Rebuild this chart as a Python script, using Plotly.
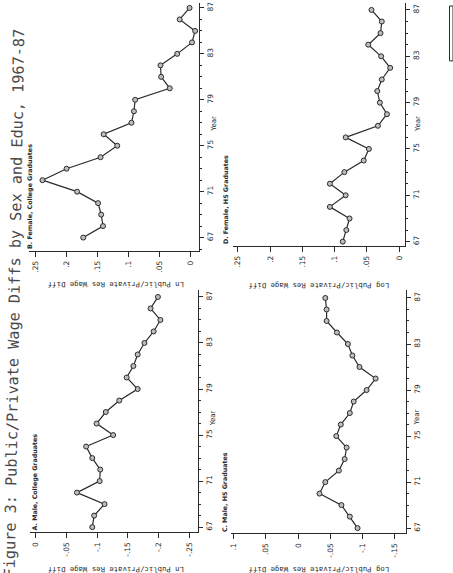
import plotly.graph_objects as go

W, H = 453, 573

years = list(range(1967, 1988))
yr = [y - 1900 for y in years]

# A. Male, College Graduates
male_college = [-0.092, -0.095, -0.112, -0.067, -0.104, -0.105, -0.092, -0.082, -0.126, -0.099,
                -0.114, -0.136, -0.166, -0.148, -0.159, -0.166, -0.177, -0.192, -0.203, -0.187, -0.199]
# B. Female, College Graduates
female_college = [0.173, 0.141, 0.144, 0.149, 0.183, 0.239, 0.200, 0.145, 0.118, 0.140,
                  0.095, 0.091, 0.089, 0.033, 0.047, 0.048, 0.021, -0.003, -0.008, 0.017, 0.001]
# C. Male, HS Graduates
male_hs = [-0.092, -0.080, -0.067, -0.033, -0.042, -0.063, -0.072, -0.075, -0.059, -0.066,
           -0.080, -0.086, -0.106, -0.120, -0.095, -0.084, -0.077, -0.060, -0.044, -0.044, -0.042]
# D. Female, HS Graduates
female_hs = [0.0875, 0.082, 0.077, 0.1075, 0.083, 0.1075, 0.085, 0.055, 0.047, 0.083,
             0.033, 0.019, 0.030, 0.034, 0.027, 0.014, 0.028, 0.048, 0.029, 0.027, 0.043]

year_ticks = [67, 71, 75, 79, 83, 87]
year_labels = ["67", "71", "75", "79", "83", "87"]
pos_ticks = [0, 0.05, 0.1, 0.15, 0.2, 0.25]
pos_labels = ["0", ".05", ".1", ".15", ".2", ".25"]
neg_ticks = [0, -0.05, -0.1, -0.15, -0.2, -0.25]
neg_labels = ["0", "-.05", "-.1", "-.15", "-.2", "-.25"]
mix_ticks = [0.1, 0.05, 0, -0.05, -0.1, -0.15]
mix_labels = [".1", ".05", "0", "-.05", "-.1", "-.15"]

title = "Figure 3: Public/Private Wage Diffs by Sex and Educ, 1967-87"
panel_titles = ["B. Female, College Graduates", "D. Female, HS Graduates",
                "A. Male, College Graduates", "C. Male, HS Graduates"]
val_titles = ["Ln Public/Private Res Wage Diff", "Log Public/Private Res Wage Diff",
              "Ln Public/Private Res Wage Diff", "Log Public/Private Res Wage Diff"]

INK = "#2a2a2a"


def xd(a, b):
    return [a / W, b / W]


def yd(top, bottom):
    return [1 - bottom / H, 1 - top / H]


panels = [
    (female_college, (27, 198), [0.261, -0.0145], (2, 250), [65.87, 87.43], pos_ticks, pos_labels),
    (female_hs, (232, 405), [0.2577, -0.0093], (2, 245), [66.66, 87.6], pos_ticks, pos_labels),
    (male_college, (28, 197), [0.0097, -0.2645], (290, 532), [66.57, 87.56], neg_ticks, neg_labels),
    (male_hs, (230, 406), [0.1042, -0.1674], (290, 533), [66.57, 87.65], mix_ticks, mix_labels),
]

fig = go.Figure()
layout = {}
for i, (vals, xdom, xr, ydom, yrng, tv, tt) in enumerate(panels):
    n = "" if i == 0 else str(i + 1)
    fig.add_trace(go.Scatter(
        x=vals, y=yr, mode="lines+markers",
        xaxis="x" + n, yaxis="y" + n,
        line=dict(color=INK, width=1.2),
        marker=dict(symbol="circle", size=5, color="#bdbdbd",
                    line=dict(color=INK, width=1)),
        showlegend=False, hoverinfo="skip",
    ))
    layout["xaxis" + n] = dict(
        domain=xd(*xdom), range=xr, anchor="y" + n,
        tickvals=tv, ticktext=tt, tickangle=-90,
        showline=True, linecolor=INK, linewidth=1.2,
        ticks="outside", ticklen=5, tickcolor=INK, tickwidth=1,
        showgrid=False, zeroline=False, ticklabelstandoff=1,
        tickfont=dict(family="DejaVu Sans", size=7.5, color=INK),
    )
    layout["yaxis" + n] = dict(
        domain=yd(*ydom), range=yrng, anchor="x" + n, side="right",
        tickvals=year_ticks, ticktext=year_labels, tickangle=-90,
        showline=True, linecolor=INK, linewidth=1.2,
        ticks="outside", ticklen=4, tickcolor=INK, tickwidth=1,
        minor=dict(dtick=1, tick0=67, ticks="outside", ticklen=2, tickcolor=INK),
        showgrid=False, zeroline=False, ticklabelstandoff=0,
        tickfont=dict(family="DejaVu Sans", size=7.5, color=INK),
    )

ann = []
ann.append(dict(text=title, x=13 / W, y=1 - 302 / H, xref="paper", yref="paper",
                showarrow=False, textangle=-89, xanchor="center", yanchor="middle",
                font=dict(family="DejaVu Sans Mono", size=15.2, color="#4a4a4a")))

ptitle_pos = [(28, 250), (224, 246), (33, 532), (223, 534)]
for t, (px, py) in zip(panel_titles, ptitle_pos):
    ann.append(dict(text="<b>" + t + "</b>", x=px / W, y=1 - py / H, xref="paper", yref="paper",
                    showarrow=False, textangle=-90, xanchor="center", yanchor="bottom",
                    font=dict(family="DejaVu Sans", size=6.3, color=INK)))

year_pos = [(213, 123), (418, 123), (212, 418), (417, 417)]
for (px, py) in year_pos:
    ann.append(dict(text="Year", x=px / W, y=1 - py / H, xref="paper", yref="paper",
                    showarrow=False, textangle=-90, xanchor="center", yanchor="middle",
                    font=dict(family="DejaVu Sans", size=7, color=INK)))

vt_pos = [(114, 284), (318, 285), (114, 570), (318, 570)]
for t, (px, py) in zip(val_titles, vt_pos):
    ann.append(dict(text=t, x=px / W, y=1 - py / H, xref="paper", yref="paper",
                    showarrow=False, textangle=180, xanchor="center", yanchor="middle",
                    font=dict(family="DejaVu Sans Mono", size=7.3, color=INK)))

shapes = [dict(type="rect", xref="paper", yref="paper",
               x0=449.5 / W, x1=453 / W, y0=1 - 60 / H, y1=1 - 5 / H,
               line=dict(color=INK, width=1))]

fig.update_layout(
    width=W, height=H, margin=dict(l=0, r=0, t=0, b=0),
    paper_bgcolor="white", plot_bgcolor="white",
    annotations=ann, shapes=shapes, **layout,
)

fig.write_html("out.html")
